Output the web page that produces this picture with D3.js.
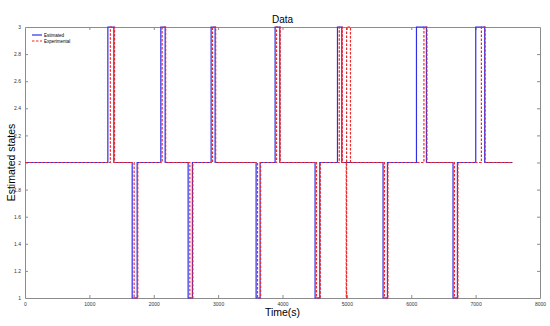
<!DOCTYPE html>
<html>
<head>
<meta charset="utf-8">
<script src="https://cdn.jsdelivr.net/npm/d3@7"></script>
<style>
    body { margin: 0; background: #fff; }
    text { font-family: Arial, "Liberation Sans", sans-serif; }
    .tick text { font-size: 5px; fill: #333; }
</style>
</head>
<body>
<div id="chart"></div>
<script>
// step changes: time at which the state switches, and the new state
const estTimes = [0, 1287, 1380, 1665, 1742, 2110, 2177, 2534, 2600, 2891, 2953, 3590, 3652,
    3885, 3958, 4506, 4579, 4854, 4921, 5562, 5630, 6081, 6236, 6649, 6717, 7002, 7141, 7570];
const estStates = [2, 3, 2, 1, 2, 3, 2, 1, 2, 3, 2, 1, 2,
    3, 2, 1, 2, 3, 2, 1, 2, 3, 2, 1, 2, 3, 2, 2];

const expTimes = [0, 1326, 1391, 1695, 1752, 2130, 2185, 2561, 2608, 2913, 2962, 3612, 3660,
    3907, 3965, 4528, 4588, 4882, 4930, 4990, 4996, 5056, 5584, 5638, 6197, 6244, 6671, 6725,
    7090, 7148, 7570];
const expStates = [2, 3, 2, 1, 2, 3, 2, 1, 2, 3, 2, 1, 2,
    3, 2, 1, 2, 3, 2, 1, 3, 2, 1, 2, 3, 2, 1, 2,
    3, 2, 2];

const xTicks = [0, 1000, 2000, 3000, 4000, 5000, 6000, 7000, 8000];
const yTicks = [1, 1.2, 1.4, 1.6, 1.8, 2, 2.2, 2.4, 2.6, 2.8, 3];

const width = 550, height = 326;
const margin = { top: 27, right: 10, bottom: 28, left: 25 };

const svg = d3.select('#chart').append('svg')
    .attr('width', width)
    .attr('height', height);

const x = d3.scaleLinear()
    .domain([0, 8000])
    .range([margin.left, width - margin.right]);

const y = d3.scaleLinear()
    .domain([1, 3])
    .range([height - margin.bottom, margin.top]);

const axisColor = '#8c8c8c';

// axes with inward ticks, mirrored on top / right like a boxed matlab plot
svg.append('g')
    .attr('class', 'axis xAxis')
    .attr('transform', `translate(0, ${height - margin.bottom})`)
    .call(d3.axisBottom(x).tickValues(xTicks).tickSizeInner(-3).tickSizeOuter(0).tickPadding(4)
        .tickFormat(d3.format('d')));

svg.append('g')
    .attr('class', 'axis xAxisTop')
    .attr('transform', `translate(0, ${margin.top})`)
    .call(d3.axisTop(x).tickValues(xTicks).tickSizeInner(-3).tickSizeOuter(0).tickFormat(''));

svg.append('g')
    .attr('class', 'axis yAxis')
    .attr('transform', `translate(${margin.left}, 0)`)
    .call(d3.axisLeft(y).tickValues(yTicks).tickSizeInner(-3).tickSizeOuter(0).tickPadding(4)
        .tickFormat(d => d3.format('.1~f')(d)));

svg.append('g')
    .attr('class', 'axis yAxisRight')
    .attr('transform', `translate(${width - margin.right}, 0)`)
    .call(d3.axisRight(y).tickValues(yTicks).tickSizeInner(-3).tickSizeOuter(0).tickFormat(''));

svg.selectAll('.axis path, .axis line')
    .style('stroke', axisColor)
    .style('stroke-width', 1);

// hide the end ticks that sit on the box
svg.selectAll('.xAxis .tick line, .xAxisTop .tick line')
    .filter(d => d == 0 || d == 8000)
    .remove();
svg.selectAll('.yAxis .tick line, .yAxisRight .tick line')
    .filter(d => d == 1 || d == 3)
    .remove();

const estData = estTimes.map((t, i) => ({ t: t, s: estStates[i] }));
const expData = expTimes.map((t, i) => ({ t: t, s: expStates[i] }));

const line = d3.line()
    .x(d => x(d.t))
    .y(d => y(d.s))
    .curve(d3.curveStepAfter);

svg.append('path')
    .datum(estData)
    .attr('fill', 'none')
    .attr('stroke', '#2f2fe6')
    .attr('stroke-width', 1.2)
    .attr('d', line);

svg.append('path')
    .datum(expData)
    .attr('fill', 'none')
    .attr('stroke', '#f02828')
    .attr('stroke-width', 1.2)
    .attr('stroke-dasharray', '2.5,1.5')
    .attr('d', line);

// legend
const legend = svg.append('g')
    .attr('transform', `translate(${margin.left + 7}, ${margin.top + 8})`);

legend.append('line')
    .attr('x1', 0).attr('x2', 10).attr('y1', 0).attr('y2', 0)
    .attr('stroke', '#2f2fe6').attr('stroke-width', 1.2);
legend.append('text')
    .attr('x', 12).attr('y', 1.5)
    .style('font-size', '4.5px')
    .text('Estimated');

legend.append('line')
    .attr('x1', 0).attr('x2', 10).attr('y1', 6).attr('y2', 6)
    .attr('stroke', '#f02828').attr('stroke-width', 1.2)
    .attr('stroke-dasharray', '2.5,1.5');
legend.append('text')
    .attr('x', 12).attr('y', 7.5)
    .style('font-size', '4.5px')
    .text('Experimental');

// title and labels
svg.append('text')
    .attr('x', (margin.left + width - margin.right) / 2)
    .attr('y', 23)
    .attr('text-anchor', 'middle')
    .style('font-size', '10px')
    .text('Data');

svg.append('text')
    .attr('x', (margin.left + width - margin.right) / 2)
    .attr('y', 316)
    .attr('text-anchor', 'middle')
    .style('font-size', '10.5px')
    .text('Time(s)');

svg.append('text')
    .attr('transform', `translate(15, ${(margin.top + height - margin.bottom) / 2}) rotate(-90)`)
    .attr('text-anchor', 'middle')
    .style('font-size', '10.5px')
    .text('Estimated states');
</script>
</body>
</html>
